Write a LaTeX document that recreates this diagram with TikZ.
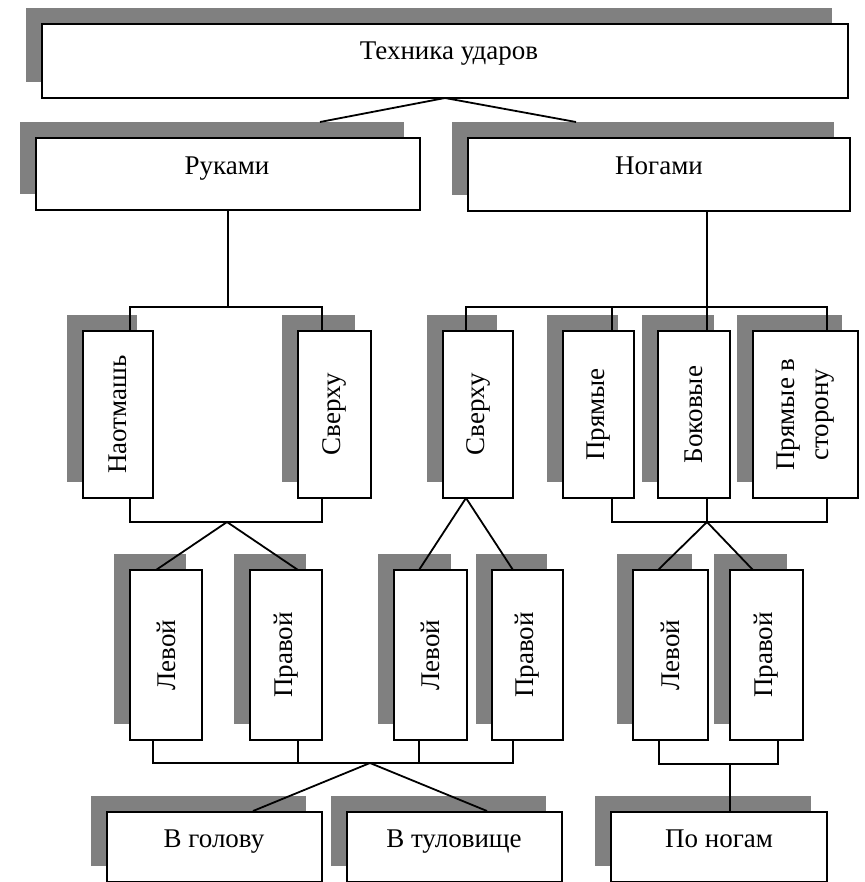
\documentclass[tikz,border=0pt]{standalone}
\usepackage{fontspec}
\setmainfont{Liberation Serif}
\usetikzlibrary{fit}
\pgfdeclarelayer{shad}
\pgfdeclarelayer{lines}
\pgfsetlayers{shad,lines,main}
\tikzset{
  boxst/.style={draw=black, line width=2.4pt, fill=white, inner sep=0pt, outer sep=0pt},
  shadowst/.style={fill=black!50, draw=none, inner sep=0pt, outer sep=0pt},
  conn/.style={draw=black, line width=1.8pt},
  lbl/.style={font=\fontsize{27}{34}\selectfont, inner sep=0pt},
}
\begin{document}
\begin{tikzpicture}[x=1pt,y=-1pt]
\useasboundingbox (0,0) rectangle (864,882);
\clip (0,0) rectangle (864,882);
% boxes and their shadows
\foreach \n/\a/\b/\c/\d in {
  top/42/24/848/98, ruk/36/138/420/210, nog/468/138/850/211,
  naot/83/331/153/498, svA/298/331/371/498, svB/443/331/513/498,
  pr/563/331/634/498, bok/658/331/730/498, prs/753/331/858/498,
  lA/130/570/202/740, pA/250/570/322/740, lB/394/570/467/740,
  pB/492/570/563/740, lC/633/570/708/740, pC/730/570/803/740,
  vg/107/812/322/882, vt/347/812/562/882, pn/611/812/827/882}{
  \begin{pgfonlayer}{shad}
    \node[shadowst, fit={(\a-16,\b-16) (\c-16,\d-16)}] (\n-s) {};
  \end{pgfonlayer}
  \node[boxst, fit={(\a,\b) (\c,\d)}] (\n) {};
}
% junction coordinates
\coordinate (e1) at (320,122);
\coordinate (e2) at (576,122);
\coordinate (b1l) at (130,307);
\coordinate (b1r) at (322,307);
\coordinate (b2l) at (130,522);
\coordinate (b2r) at (322,522);
\coordinate (a1) at (227,522);
\coordinate (tlA) at (156,570);
\coordinate (tpA) at (298,570);
\coordinate (nx) at (707,0);
\coordinate (b3l) at (466,307);
\coordinate (b3r) at (827,307);
\coordinate (b3a) at (612,307);
\coordinate (tlB) at (419,570);
\coordinate (tpB) at (513,570);
\coordinate (b4l) at (612,522);
\coordinate (b4r) at (827,522);
\coordinate (b4a) at (707,522);
\coordinate (tlC) at (658,570);
\coordinate (tpC) at (753,570);
\coordinate (b5l) at (153,763);
\coordinate (b5r) at (513,763);
\coordinate (b5p) at (298,763);
\coordinate (b5q) at (419,763);
\coordinate (b5a) at (370,763);
\coordinate (tvg) at (253,811);
\coordinate (tvt) at (487,811);
\coordinate (b6l) at (659,764);
\coordinate (b6r) at (778,764);
\coordinate (b6a) at (730,764);
\begin{pgfonlayer}{lines}
  \draw[conn] (e1) -- (top.south) -- (e2);
  % hands
  \draw[conn] (ruk.south) -- (ruk.south |- b1l);
  \draw[conn] (b1l |- naot.north) -- (b1l) -- (b1r) -- (b1r |- svA.north);
  \draw[conn] (b2l |- naot.south) -- (b2l) -- (b2r) -- (b2r |- svA.south);
  \draw[conn] (tlA) -- (a1) -- (tpA);
  % legs
  \draw[conn] (nx |- nog.south) -- (nx |- bok.north);
  \draw[conn] (b3l |- svB.north) -- (b3l) -- (b3r) -- (b3r |- prs.north);
  \draw[conn] (b3a) -- (b3a |- pr.north);
  \draw[conn] (tlB) -- (b3l |- svB.south) -- (tpB);
  \draw[conn] (b4l |- pr.south) -- (b4l) -- (b4r) -- (b4r |- prs.south);
  \draw[conn] (nx |- bok.south) -- (b4a);
  \draw[conn] (tlC) -- (b4a) -- (tpC);
  % targets
  \draw[conn] (b5l |- lA.south) -- (b5l) -- (b5r) -- (b5r |- pB.south);
  \draw[conn] (b5p |- pA.south) -- (b5p);
  \draw[conn] (b5q |- lB.south) -- (b5q);
  \draw[conn] (tvg) -- (b5a) -- (tvt);
  \draw[conn] (b6l |- lC.south) -- (b6l) -- (b6r) -- (b6r |- pC.south);
  \draw[conn] (b6a) -- (b6a |- pn.north);
\end{pgfonlayer}
% labels
\node[lbl, anchor=base] (top-t) at (449,60) {Техника ударов};
\node[lbl, anchor=base] (ruk-t) at (227,175) {Руками};
\node[lbl, anchor=base] (nog-t) at (659,175) {Ногами};
\node[lbl, anchor=base] (vg-t) at (214,847) {В голову};
\node[lbl, anchor=base] (vt-t) at (454,847) {В туловище};
\node[lbl, anchor=base] (pn-t) at (719,847) {По ногам};
\node[lbl, rotate=90] (naot-t) at (naot.center) {Наотмашь};
\node[lbl, rotate=90] (svA-t) at (svA.center) {Сверху};
\node[lbl, rotate=90] (svB-t) at (svB.center) {Сверху};
\node[lbl, rotate=90] (pr-t) at (pr.center) {Прямые};
\node[lbl, rotate=90] (bok-t) at (bok.center) {Боковые};
\node[lbl, rotate=90, align=center] (prs-t) at (prs.center) {Прямые в\\сторону};
\node[lbl, rotate=90] (lA-t) at (lA.center) {Левой};
\node[lbl, rotate=90] (pA-t) at (pA.center) {Правой};
\node[lbl, rotate=90] (lB-t) at (lB.center) {Левой};
\node[lbl, rotate=90] (pB-t) at (pB.center) {Правой};
\node[lbl, rotate=90] (lC-t) at (lC.center) {Левой};
\node[lbl, rotate=90] (pC-t) at (pC.center) {Правой};
\end{tikzpicture}
\end{document}
